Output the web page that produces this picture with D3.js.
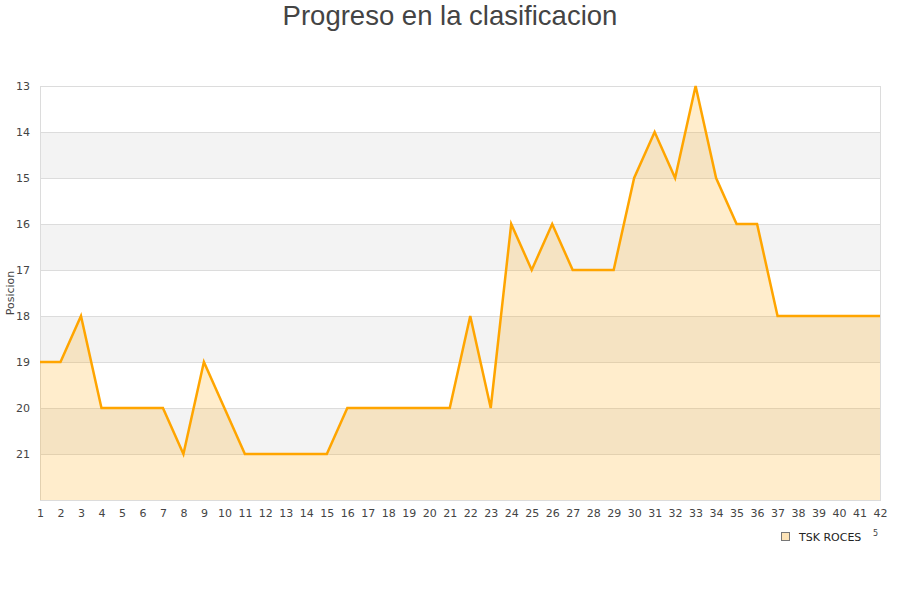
<!DOCTYPE html>
<html>
<head>
<meta charset="utf-8">
<script src="https://cdn.jsdelivr.net/npm/d3@7"></script>
<style>
  body { margin: 0; background: #fff; }
  svg text { font-family: "DejaVu Sans", sans-serif; }
</style>
</head>
<body>
<div class="chart"></div>
<script>
const jornadas = d3.range(1, 43);
const posiciones = [19, 19, 18, 20, 20, 20, 20, 21, 19, 20, 21, 21, 21, 21, 21, 20, 20, 20, 20, 20, 20,
                    18, 20, 16, 17, 16, 17, 17, 17, 15, 14, 15, 13, 15, 16, 16, 18, 18, 18, 18, 18, 18];
const yTicks = [13, 14, 15, 16, 17, 18, 19, 20, 21];
const bandas = [[14, 15], [16, 17], [18, 19], [20, 21]];
const equipo = 'TSK ROCES';

const data = jornadas.map((j, i) => ({j: j, pos: posiciones[i]}));

const margin = ({top: 86, right: 20, bottom: 100, left: 40});
const width = 900, height = 600;

const svg = d3.select('.chart').append('svg')
    .attr('width', width)
    .attr('height', height);

const x = d3.scaleLinear().domain([1, 42]).range([margin.left, width - margin.right]);
const y = d3.scaleLinear().domain([13, 22]).range([margin.top, height - margin.bottom]);

// bandas grises
svg.selectAll('.band')
    .data(bandas)
    .enter().append('rect')
    .attr('x', x(1))
    .attr('width', x(42) - x(1))
    .attr('y', d => y(d[0]))
    .attr('height', d => y(d[1]) - y(d[0]))
    .attr('fill', '#f3f3f3');

// grid
svg.selectAll('.grid')
    .data(yTicks.concat([22]))
    .enter().append('line')
    .attr('x1', x(1)).attr('x2', x(42))
    .attr('y1', d => y(d)).attr('y2', d => y(d))
    .attr('stroke', '#dcdcdc')
    .attr('stroke-width', 1)
    .attr('shape-rendering', 'crispEdges');

svg.append('rect')
    .attr('x', x(1)).attr('y', y(13))
    .attr('width', x(42) - x(1)).attr('height', y(22) - y(13))
    .attr('fill', 'none')
    .attr('stroke', '#dcdcdc')
    .attr('shape-rendering', 'crispEdges');

const area = d3.area()
    .x(d => x(d.j))
    .y0(y(22))
    .y1(d => y(d.pos));

svg.append('path')
    .datum(data)
    .attr('d', area)
    .attr('fill', 'rgba(255,165,0,0.2)');

const line = d3.line()
    .x(d => x(d.j))
    .y(d => y(d.pos));

svg.append('path')
    .datum(data)
    .attr('d', line)
    .attr('fill', 'none')
    .attr('stroke', '#ffa500')
    .attr('stroke-width', 2.5)
    .attr('stroke-linejoin', 'miter');

// ejes
const xAxis = d3.axisBottom(x).tickValues(jornadas).tickFormat(d3.format('d')).tickSize(0).tickPadding(9);
svg.append('g')
    .attr('transform', `translate(0,${y(22)})`)
    .call(xAxis)
    .call(g => g.select('.domain').remove())
    .selectAll('text')
    .attr('font-size', 11)
    .attr('fill', '#444')
    .attr('font-family', '"DejaVu Sans", sans-serif');

const yAxis = d3.axisLeft(y).tickValues(yTicks).tickSize(0).tickPadding(10);
svg.append('g')
    .attr('transform', `translate(${x(1)},0)`)
    .call(yAxis)
    .call(g => g.select('.domain').remove())
    .selectAll('text')
    .attr('font-size', 11)
    .attr('fill', '#444')
    .attr('font-family', '"DejaVu Sans", sans-serif');

svg.append('text')
    .text('Posicion')
    .attr('transform', 'translate(14,293) rotate(-90)')
    .attr('text-anchor', 'middle')
    .attr('font-size', 11)
    .attr('fill', '#444');

svg.append('text')
    .text('Progreso en la clasificacion')
    .attr('x', width / 2)
    .attr('y', 25)
    .attr('text-anchor', 'middle')
    .attr('font-size', 27.5)
    .attr('fill', '#444')
    .style('font-family', '"Liberation Sans", Arial, sans-serif');

// leyenda
svg.append('rect')
    .attr('x', 781.5).attr('y', 532.5)
    .attr('width', 8).attr('height', 8)
    .attr('fill', '#fde4b8')
    .attr('stroke', '#777')
    .attr('stroke-width', 1);

svg.append('text')
    .text(equipo)
    .attr('x', 799)
    .attr('y', 541)
    .attr('font-size', 11)
    .attr('fill', '#222');

svg.append('text')
    .text('5')
    .attr('x', 873)
    .attr('y', 536)
    .attr('font-size', 8)
    .attr('fill', '#444');
</script>
</body>
</html>
